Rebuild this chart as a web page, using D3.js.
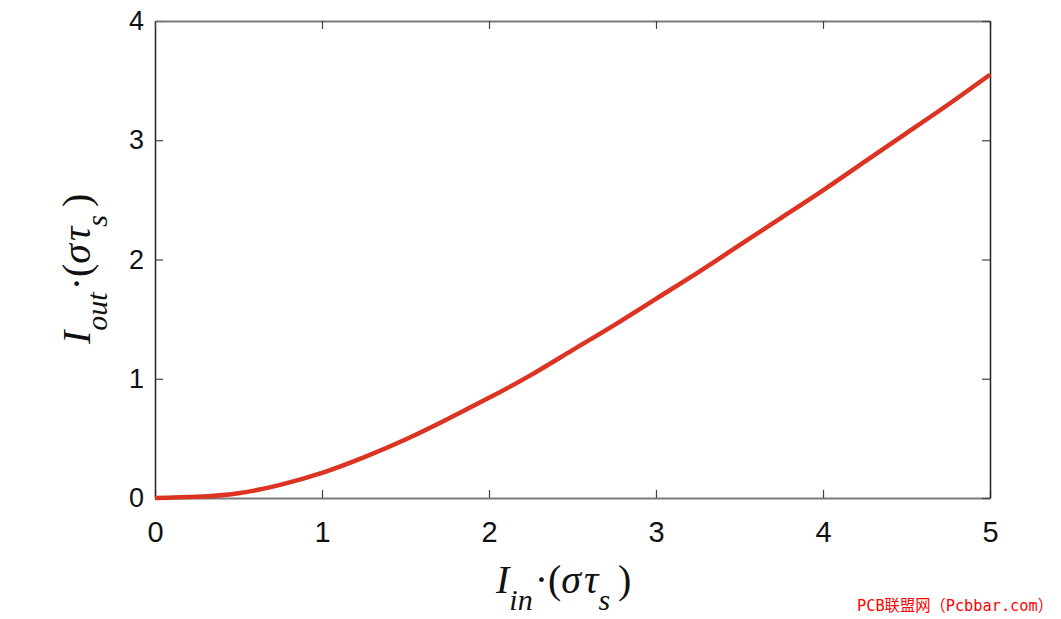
<!DOCTYPE html>
<html lang="en">
<head>
<meta charset="UTF-8">
<title>Iout vs Iin</title>
<script src="https://cdn.jsdelivr.net/npm/d3@7"></script>
<style>
    body { margin: 0; background: #fff; }
    svg { display: block; }
</style>
</head>
<body>
<div id="graphic"></div>
<script>
    // values
    var inputLevels = [0, 0.25, 0.5, 0.75, 1.0, 1.25, 1.5, 1.75, 2.0, 2.25, 2.5, 2.75,
                       3.0, 3.25, 3.5, 3.75, 4.0, 4.25, 4.5, 4.75, 5.0];
    var outputLevels = [0, 0.01, 0.04, 0.11, 0.21, 0.34, 0.49, 0.66, 0.84, 1.03, 1.24, 1.45,
                        1.67, 1.89, 2.12, 2.35, 2.58, 2.82, 3.06, 3.30, 3.55];
    var xTicks = [0, 1, 2, 3, 4, 5];
    var yTicks = [0, 1, 2, 3, 4];

    var width = 1061, height = 619;
    var plotLeft = 155, plotRight = 990, plotTop = 21, plotBottom = 498;

    var svg = d3.select('#graphic').append('svg')
        .attr('width', width)
        .attr('height', height);

    var x = d3.scaleLinear().domain([0, 5]).range([plotLeft, plotRight]);
    var y = d3.scaleLinear().domain([0, 4]).range([plotBottom, plotTop]);

    var tickFont = "'Liberation Sans', Arial, sans-serif";

    // bottom axis with labels
    var gx = svg.append('g')
        .attr('transform', 'translate(0,' + plotBottom + ')')
        .call(d3.axisBottom(x).tickValues(xTicks).tickFormat(d3.format('d'))
            .tickSize(-8).tickSizeOuter(0).tickPadding(23));
    gx.selectAll('text').style('font-family', tickFont).style('font-size', '29px').attr('fill', '#111');

    // left axis with labels
    var gy = svg.append('g')
        .attr('transform', 'translate(' + plotLeft + ',0)')
        .call(d3.axisLeft(y).tickValues(yTicks).tickFormat(d3.format('d'))
            .tickSize(-8).tickSizeOuter(0).tickPadding(11));
    gy.selectAll('text').style('font-family', tickFont).style('font-size', '27px').attr('fill', '#111');

    // top and right: ticks only
    var gt = svg.append('g')
        .attr('transform', 'translate(0,' + plotTop + ')')
        .call(d3.axisTop(x).tickValues(xTicks).tickFormat('').tickSize(-8).tickSizeOuter(0));
    var gr = svg.append('g')
        .attr('transform', 'translate(' + plotRight + ',0)')
        .call(d3.axisRight(y).tickValues(yTicks).tickFormat('').tickSize(-8).tickSizeOuter(0));

    gx.select('.domain').attr('stroke', '#7a7a7a').attr('stroke-width', 2);
    gt.select('.domain').attr('stroke', '#7a7a7a').attr('stroke-width', 2);
    gy.select('.domain').attr('stroke', '#222').attr('stroke-width', 1.5);
    gr.select('.domain').attr('stroke', '#222').attr('stroke-width', 1.5);
    svg.selectAll('.tick line').attr('stroke', '#444').attr('stroke-width', 1.2);

    // the curve
    var pts = inputLevels.map(function(v, i) { return [v, outputLevels[i]]; });
    var line = d3.line()
        .x(function(d) { return x(d[0]); })
        .y(function(d) { return y(d[1]); })
        .curve(d3.curveNatural);

    svg.append('path')
        .datum(pts)
        .attr('d', line)
        .attr('fill', 'none')
        .attr('stroke', '#dc3322')
        .attr('stroke-width', 4.5)
        .attr('stroke-linecap', 'butt');

    // axis titles in serif italic
    var serif = "'Liberation Serif', 'Times New Roman', serif";

    function mathTitle(sel, sub) {
        sel.append('tspan').style('font-style', 'italic').text('I');
        sel.append('tspan').style('font-style', 'italic').style('font-size', '30px').attr('dy', 17).text(sub);
        sel.append('tspan').attr('dy', -17).attr('dx', 2).text('\u00B7(');
        sel.append('tspan').style('font-style', 'italic').text('\u03C3');
        sel.append('tspan').style('font-style', 'italic').attr('dx', 3).text('\u03C4');
        sel.append('tspan').style('font-style', 'italic').style('font-size', '30px').attr('dy', 17).text('s');
        sel.append('tspan').attr('dy', -17).attr('dx', 8).text(')');
    }

    var xt = svg.append('text')
        .attr('x', 496)
        .attr('y', 593)
        .style('font-family', serif)
        .style('font-size', '40px')
        .attr('fill', '#111');
    mathTitle(xt, 'in');

    var yt = svg.append('text')
        .attr('transform', 'translate(90,344) rotate(-90)')
        .style('font-family', serif)
        .style('font-size', '40px')
        .attr('fill', '#111');
    mathTitle(yt, 'out');

    // watermark
    svg.append('text')
        .attr('x', 857)
        .attr('y', 611)
        .attr('textLength', 196)
        .attr('lengthAdjust', 'spacingAndGlyphs')
        .style('font-family', "'DejaVu Sans Mono', 'Noto Sans CJK SC', monospace")
        .style('font-size', '16px')
        .attr('fill', '#ff0000')
        .text('PCB联盟网\uFF08Pcbbar.com\uFF09');
</script>
</body>
</html>
